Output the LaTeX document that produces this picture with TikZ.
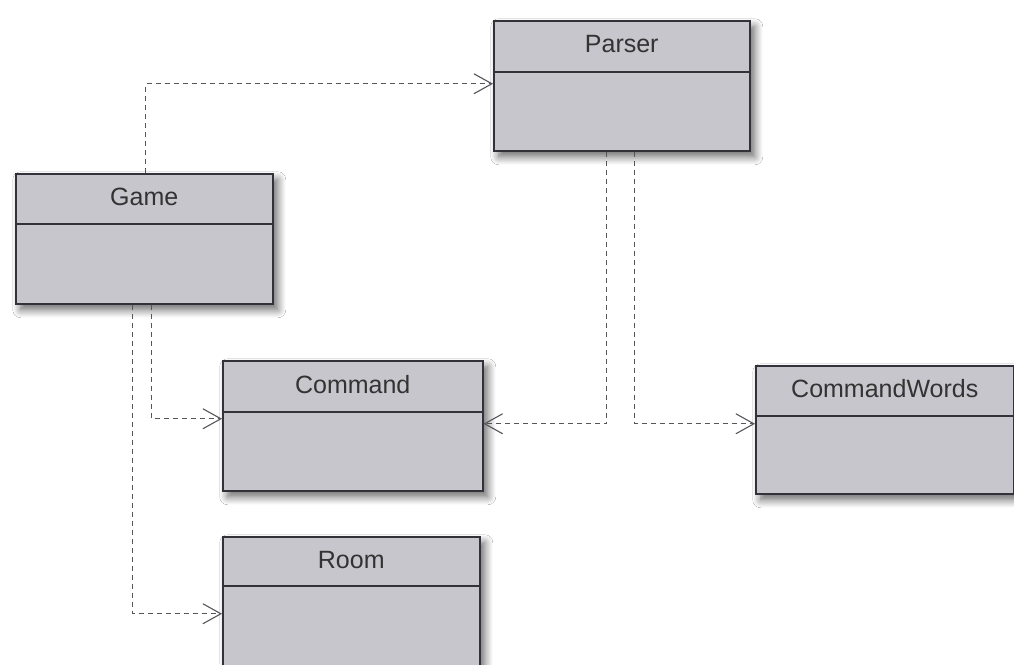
\documentclass[tikz,border=0pt]{standalone}
\usepackage{fontspec}
\setmainfont{Liberation Sans}
\usetikzlibrary{arrows.meta,shadows.blur}
\definecolor{classfill}{RGB}{198,198,204}
\definecolor{classline}{RGB}{50,50,58}
\definecolor{depline}{RGB}{85,85,92}
\begin{document}
\begin{tikzpicture}[x=1pt,y=-1pt,
  classbox/.style={draw=classline, line width=1.5pt, fill=classfill, anchor=north west, inner sep=0pt,
    blur shadow={shadow xshift=5pt, shadow yshift=-6pt, shadow blur radius=8pt, shadow blur steps=10, shadow opacity=60}},
  classtitle/.style={font=\fontsize{25}{30}\selectfont, text=black!80, anchor=center, inner sep=0pt},
  divider/.style={draw=classline, line width=1.5pt},
  dep/.style={draw=depline, line width=1.2pt, dash pattern=on 5pt off 4pt,
    -{Straight Barb[length=18pt,width=20pt,line width=1.1pt]}}
]
\useasboundingbox (0,0) rectangle (1014,664);
\fill[white] (0,0) rectangle (1014,664);

% class boxes
\node[classbox, minimum width=256pt, minimum height=130pt] (parser) at (493,20) {};
\node[classbox, minimum width=257pt, minimum height=130pt] (game) at (15,173) {};
\node[classbox, minimum width=260pt, minimum height=130pt] (command) at (222,360) {};
\node[classbox, minimum width=258pt, minimum height=128pt] (words) at (755,365) {};
\node[classbox, minimum width=257pt, minimum height=130pt] (room) at (222,536) {};

% titles
\node[classtitle] (parserT) at ([yshift=-24pt]parser.north) {Parser};
\node[classtitle] (gameT) at ([yshift=-24pt]game.north) {Game};
\node[classtitle] (commandT) at ([yshift=-25pt]command.north) {Command};
\node[classtitle] (wordsT) at ([yshift=-24pt]words.north) {CommandWords};
\node[classtitle] (roomT) at ([yshift=-24pt]room.north) {Room};

% dividers
\draw[divider] ([yshift=-52pt]parser.north west) -- ([yshift=-52pt]parser.north east);
\draw[divider] ([yshift=-51pt]game.north west) -- ([yshift=-51pt]game.north east);
\draw[divider] ([yshift=-52pt]command.north west) -- ([yshift=-52pt]command.north east);
\draw[divider] ([yshift=-51pt]words.north west) -- ([yshift=-51pt]words.north east);
\draw[divider] ([yshift=-50pt]room.north west) -- ([yshift=-50pt]room.north east);

% dependencies
\draw[dep] ([xshift=1.5pt]game.north) |- ([yshift=2pt]parser.west);
\draw[dep] ([xshift=7.5pt]game.south) |- ([yshift=7pt]command.west);
\draw[dep] ([xshift=-11.5pt]game.south) |- ([yshift=-12pt]room.west);
\draw[dep] ([xshift=-15pt]parser.south) |- ([yshift=2pt]command.east);
\draw[dep] ([xshift=13pt]parser.south) |- ([yshift=6pt]words.west);
\end{tikzpicture}
\end{document}
